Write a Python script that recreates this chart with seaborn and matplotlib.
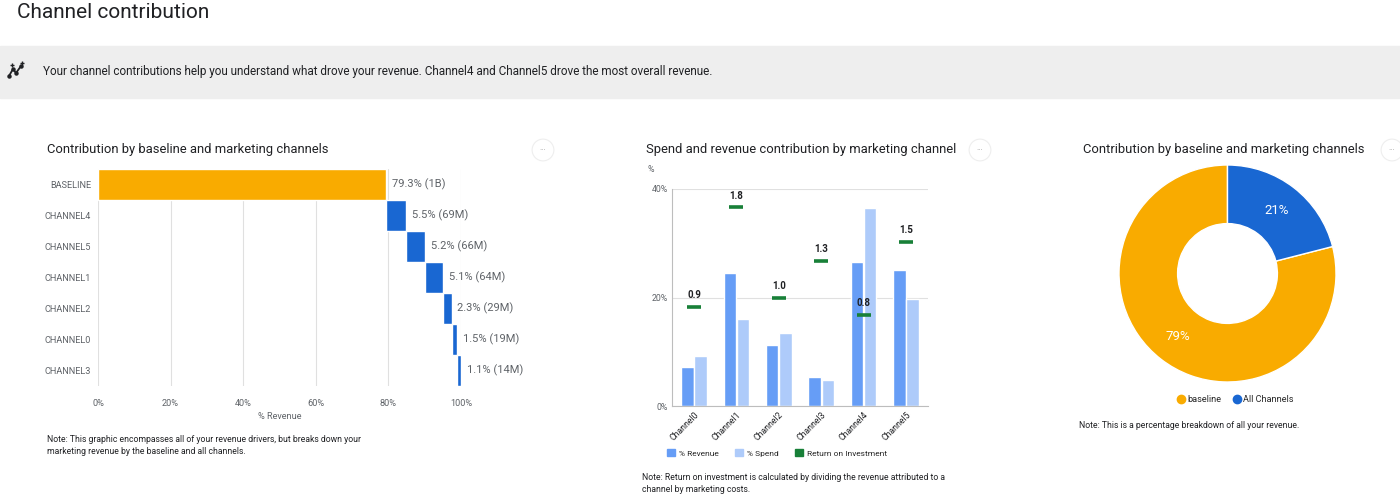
import numpy as np
import pandas as pd
import matplotlib.pyplot as plt
import seaborn as sns
from matplotlib.patches import Rectangle, Patch
from matplotlib.lines import Line2D

# --- data ---
contrib_labels = ['BASELINE', 'CHANNEL4', 'CHANNEL5', 'CHANNEL1', 'CHANNEL2', 'CHANNEL0', 'CHANNEL3']
contrib_pct = [79.3, 5.5, 5.2, 5.1, 2.3, 1.5, 1.1]
contrib_amount = ['1B', '69M', '66M', '64M', '29M', '19M', '14M']

channels = ['Channel0', 'Channel1', 'Channel2', 'Channel3', 'Channel4', 'Channel5']
revenue_pct = [7.1, 24.5, 11.2, 5.4, 26.5, 25.0]
spend_pct = [9.3, 16.0, 13.4, 4.8, 36.5, 19.8]
roi = [0.91, 1.83, 1.00, 1.34, 0.84, 1.51]

donut_labels = ['baseline', 'All Channels']
donut_share = [79, 21]

ORANGE = '#f9ab00'
BLUE = '#1967d2'
REV_BLUE = '#669df6'
SPEND_BLUE = '#aecbfa'
GREEN = '#188038'
TXT = '#202124'
GREY = '#5f6368'

W, H = 1400, 503
sns.set_theme(style='white')
plt.rcParams['font.family'] = ['Roboto', 'DejaVu Sans']

fig = plt.figure(figsize=(W / 100, H / 100), dpi=100)


def fx(x):
    return x / W


def fy(y):
    return 1 - y / H


def box(l, t, r, b):
    return [fx(l), fy(b), (r - l) / W, (b - t) / H]


# header + insight banner
fig.text(fx(17), fy(12), 'Channel contribution', fontsize=15, color=TXT, va='center')
fig.add_artist(Rectangle((0, fy(98)), 1, 52 / H, transform=fig.transFigure, color='#eeeeee', zorder=0))
fig.add_artist(Line2D([fx(9), fx(13), fx(16), fx(21)], [fy(76), fy(69), fy(73), fy(66)],
                      transform=fig.transFigure, color=TXT, lw=1.3, marker='o', ms=2.2))
fig.add_artist(Line2D([fx(12), fx(22)], [fy(65), fy(63)], transform=fig.transFigure,
                      color=TXT, lw=0, marker='+', ms=3, mew=1))
fig.text(fx(43), fy(71), 'Your channel contributions help you understand what drove your revenue. '
         'Channel4 and Channel5 drove the most overall revenue.', fontsize=8.5, color=TXT, va='center')

# panel titles and the little menu buttons
for x, title in [(47, 'Contribution by baseline and marketing channels'),
                 (646, 'Spend and revenue contribution by marketing channel'),
                 (1083, 'Contribution by baseline and marketing channels')]:
    fig.text(fx(x), fy(150), title, fontsize=9.4, color=TXT, va='center')
for x in [543, 980, 1392]:
    fig.text(fx(x), fy(150), '···', fontsize=6, color='#9e9e9e', ha='center', va='center',
             bbox=dict(boxstyle='circle,pad=0.9', fc='white', ec='#eeeeee', lw=0.8))

# 1. waterfall of contributions
ax1 = fig.add_axes(box(98, 169, 461, 386))
starts = np.concatenate([[0], np.cumsum(contrib_pct)[:-1]])
ypos = np.arange(len(contrib_labels))
colors = [ORANGE] + [BLUE] * (len(contrib_labels) - 1)
ax1.barh(ypos, contrib_pct, left=starts, height=0.97, color=colors, zorder=2)
for i, (s, p, a) in enumerate(zip(starts, contrib_pct, contrib_amount)):
    ax1.text(s + p + 1.6, i, f'{p}% ({a})', va='center', fontsize=8, color=GREY)
ax1.set_ylim(len(contrib_labels) - 0.5, -0.5)
ax1.set_xlim(0, 100)
ax1.set_yticks(ypos)
ax1.set_yticklabels(contrib_labels, fontsize=6.6, color=GREY)
ax1.set_xticks(range(0, 101, 20))
ax1.set_xticklabels([f'{v}%' for v in range(0, 101, 20)], fontsize=6.6, color=GREY)
ax1.tick_params(axis='both', length=0)
ax1.tick_params(axis='x', pad=9)
ax1.tick_params(axis='y', pad=5)
ax1.grid(axis='x', color='#e0e0e0', lw=0.8)
ax1.set_axisbelow(True)
sns.despine(ax=ax1, left=True, bottom=True)
ax1.set_xlabel('% Revenue', fontsize=6.6, color=GREY, labelpad=3)
fig.text(fx(47), fy(440), 'Note: This graphic encompasses all of your revenue drivers, but breaks down your',
         fontsize=6.2, color=TXT, va='center')
fig.text(fx(47), fy(452), 'marketing revenue by the baseline and all channels.',
         fontsize=6.2, color=TXT, va='center')

# 2. spend vs revenue with ROI markers
ax2 = fig.add_axes(box(672, 189, 928, 406))
df = pd.DataFrame({
    'channel': channels * 2,
    'metric': ['% Revenue'] * len(channels) + ['% Spend'] * len(channels),
    'value': revenue_pct + spend_pct,
})
sns.barplot(data=df, x='channel', y='value', hue='metric', palette=[REV_BLUE, SPEND_BLUE],
            width=0.62, gap=0.05, saturation=1, legend=False, ax=ax2)
axr = ax2.twinx()
sns.scatterplot(x=np.arange(len(channels)), y=roi, marker='_', s=110, linewidth=2.6,
                color=GREEN, ax=axr, zorder=4)
for i, r in enumerate(roi):
    axr.annotate(f'{r:.1f}', (i, r), xytext=(0, 5), textcoords='offset points',
                 ha='center', va='bottom', fontsize=7, fontweight='bold', color=TXT)
axr.set_ylim(0, 2)
axr.axis('off')
ax2.set_xlim(-0.52, len(channels) - 0.48)
ax2.set_ylim(0, 40)
ax2.set_yticks([0, 20, 40])
ax2.set_yticklabels(['0%', '20%', '40%'], fontsize=6.3, color=GREY)
ax2.set_xticks(range(len(channels)))
ax2.set_xticklabels(channels, rotation=45, ha='right', rotation_mode='anchor', fontsize=6.2, color=TXT)
ax2.tick_params(axis='both', length=0)
ax2.tick_params(axis='x', pad=3)
ax2.tick_params(axis='y', pad=3)
ax2.grid(axis='y', color='#e0e0e0', lw=0.8)
ax2.set_axisbelow(True)
sns.despine(ax=ax2)
for side in ['left', 'bottom']:
    ax2.spines[side].set_color('#bdbdbd')
    ax2.spines[side].set_linewidth(0.8)
ax2.set_xlabel('')
ax2.set_ylabel('')
fig.text(fx(647), fy(169), '%', fontsize=6.3, color=GREY, va='center')
fig.legend(handles=[Patch(color=REV_BLUE, label='% Revenue'),
                    Patch(color=SPEND_BLUE, label='% Spend'),
                    Patch(color=GREEN, label='Return on Investment')],
           loc='center', bbox_to_anchor=(fx(777), fy(453)), ncol=3, frameon=False, fontsize=6,
           handlelength=0.9, handleheight=0.9, handletextpad=0.5, columnspacing=2.0)
fig.text(fx(642), fy(477), 'Note: Return on investment is calculated by dividing the revenue attributed to a',
         fontsize=6.2, color=TXT, va='center')
fig.text(fx(642), fy(489), 'channel by marketing costs.', fontsize=6.2, color=TXT, va='center')

# 3. baseline vs channels donut
ax3 = fig.add_axes(box(1119, 165, 1336, 382))
ax3.pie(donut_share, colors=[ORANGE, BLUE], startangle=90, counterclock=True,
        autopct='%d%%', pctdistance=0.74,
        wedgeprops=dict(width=0.54, edgecolor='white', linewidth=1),
        textprops=dict(color='white', fontsize=9.5))
ax3.set_xlim(-1, 1)
ax3.set_ylim(-1, 1)
fig.legend(handles=[Line2D([], [], marker='o', lw=0, color=c, ms=6, label=l)
                    for c, l in zip([ORANGE, BLUE], donut_labels)],
           loc='center', bbox_to_anchor=(fx(1235), fy(400)), ncol=2, frameon=False, fontsize=6.6,
           handletextpad=0.2, columnspacing=1.2, handlelength=1)
fig.text(fx(1079), fy(426), 'Note: This is a percentage breakdown of all your revenue.',
         fontsize=6.2, color=TXT, va='center')

fig.savefig('out.png', dpi=100)
